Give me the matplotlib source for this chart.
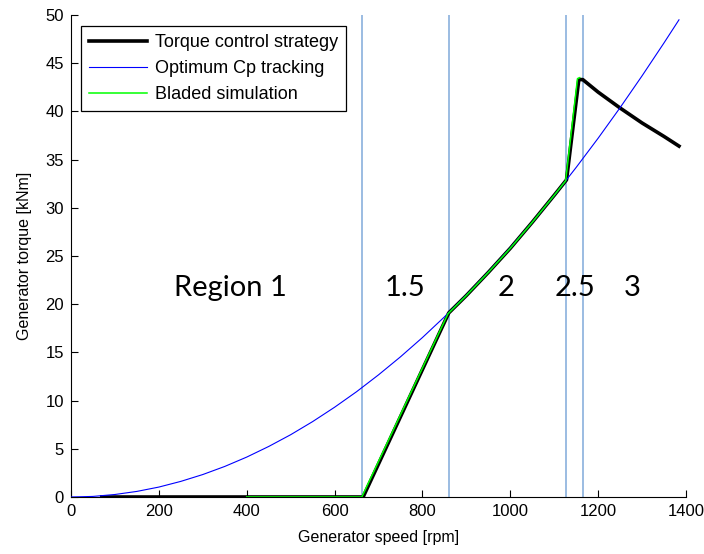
import matplotlib
matplotlib.use("Agg")
import matplotlib.pyplot as plt

# ---- data ----
cp_rpm = [0, 50, 100, 150, 200, 250, 300, 350, 400, 450, 500, 550, 600, 650, 700, 750, 800,
          850, 900, 950, 1000, 1050, 1100, 1150, 1200, 1250, 1300, 1350, 1384]
cp_torque = [0, 0.06, 0.26, 0.58, 1.03, 1.62, 2.33, 3.17, 4.14, 5.24, 6.46, 7.82, 9.31, 10.92,
             12.67, 14.54, 16.54, 18.68, 20.94, 23.33, 25.85, 28.50, 31.28, 34.19, 37.22,
             40.39, 43.69, 47.11, 49.5]

strat_rpm = [70, 665, 860, 900, 950, 1000, 1050, 1100, 1128, 1156, 1165, 1200, 1250, 1300, 1350, 1384]
strat_torque = [0, 0, 19.1, 20.9, 23.3, 25.8, 28.5, 31.3, 32.9, 43.3, 43.3, 42.0, 40.35, 38.8, 37.4, 36.4]

bladed_rpm = [400, 662, 858, 900, 950, 1000, 1050, 1100, 1126, 1153, 1158]
bladed_torque = [0, 0, 19.0, 20.9, 23.3, 25.8, 28.5, 31.3, 32.8, 43.4, 43.5]

region_bounds = [662, 860, 1127, 1165]
region_labels = ["Region 1", "1.5", "2", "2.5", "3"]
region_label_x = [362, 760, 990, 1147, 1277]
region_label_y = 20.85

xticks = [0, 200, 400, 600, 800, 1000, 1200, 1400]
yticks = [0, 5, 10, 15, 20, 25, 30, 35, 40, 45, 50]

tick_font = ["Liberation Sans", "DejaVu Sans"]
text_font = ["Liberation Sans", "DejaVu Sans"]

fig = plt.figure(figsize=(7.04, 5.54), dpi=100)
ax = fig.add_axes([71 / 704, 57 / 554, 615 / 704, 482 / 554])

for xb in region_bounds:
    ax.axvline(xb, color="#80a9da", lw=1.1, zorder=1)

ax.plot(strat_rpm, strat_torque, color="black", lw=2.6, label="Torque control strategy", zorder=3)
ax.plot(cp_rpm, cp_torque, color="#0000ff", lw=0.8, label="Optimum Cp tracking", zorder=4)
ax.plot(bladed_rpm, bladed_torque, color="#00ff00", lw=1.1, label="Bladed simulation", zorder=5)

for lab, xl in zip(region_labels, region_label_x):
    ax.text(xl, region_label_y, lab, ha="center", va="baseline", fontsize=21,
            family=["Lato", "DejaVu Sans"], color="black")

ax.set_xlim(0, 1400)
ax.set_ylim(0, 50)
ax.set_xticks(xticks)
ax.set_yticks(yticks)
ax.spines["top"].set_visible(False)
ax.spines["right"].set_visible(False)
ax.tick_params(direction="in", length=5, width=0.8, labelsize=12, pad=5)
for lab in ax.get_xticklabels() + ax.get_yticklabels():
    lab.set_family(tick_font)

ax.set_xlabel("Generator speed [rpm]", fontsize=11.5, family=text_font, labelpad=8)
ax.set_ylabel("Generator torque [kNm]", fontsize=11.5, family=text_font, labelpad=10)

leg = ax.legend(loc="upper left", bbox_to_anchor=(10 / 615, 1 - 11 / 482), frameon=True,
                fancybox=False, shadow=False, prop={"family": text_font, "size": 13},
                handlelength=3.2, handletextpad=0.45, labelspacing=0.5, borderpad=0.45,
                borderaxespad=0.0)
leg.get_frame().set_edgecolor("black")
leg.get_frame().set_linewidth(0.9)
leg.get_frame().set_alpha(1)

fig.savefig("out.png", dpi=100)
